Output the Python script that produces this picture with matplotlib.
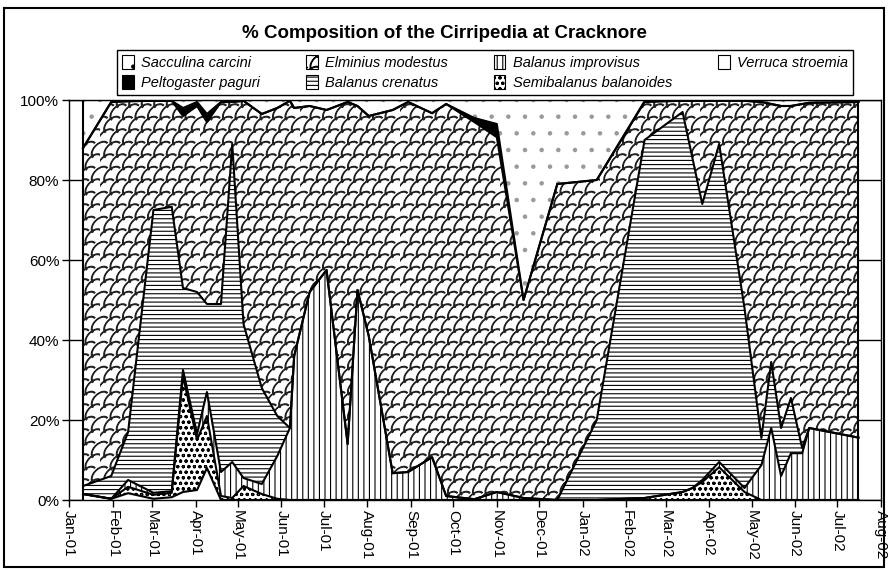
import numpy as np
import pandas as pd
import matplotlib
matplotlib.use('Agg')
import matplotlib.pyplot as plt
import matplotlib.dates as mdates
import matplotlib.hatch as mhatch
import matplotlib.patches as mpatches
from matplotlib.path import Path
from matplotlib.ticker import PercentFormatter

plt.rcParams['font.family'] = ['Liberation Sans', 'DejaVu Sans']
plt.rcParams['hatch.linewidth'] = 0.8

# sampling dates
dates = pd.to_datetime([
    '2001-01-11', '2001-01-31', '2001-02-12', '2001-03-02', '2001-03-15', '2001-03-23',
    '2001-04-02', '2001-04-09', '2001-04-19', '2001-04-27', '2001-05-05', '2001-05-18',
    '2001-05-29', '2001-06-07', '2001-06-10', '2001-06-21', '2001-07-03', '2001-07-18',
    '2001-07-25', '2001-08-02', '2001-08-19', '2001-08-30', '2001-09-16', '2001-09-26',
    '2001-10-16', '2001-11-01', '2001-11-20', '2001-12-14', '2002-01-11', '2002-02-14',
    '2002-03-13', '2002-03-20', '2002-03-27', '2002-04-08', '2002-04-26', '2002-05-08',
    '2002-05-15', '2002-05-22', '2002-05-29', '2002-06-06', '2002-06-11', '2002-07-16'])

# % composition of each species (bottom of the stack first)
verruca = [1.5, 0.3, 1.7, 0.3, 0.7, 2.0, 2.5, 8.0, 0, 0, 0, 0,
           0, 0, 0, 0, 0, 0, 0, 0, 0, 0, 0, 0,
           0, 0, 0, 0, 0, 0, 0, 0, 0, 0, 0, 0,
           0, 0, 0, 0, 0, 0]
semibalanus = [0, 0, 1.6, 1.0, 1.1, 29, 12.5, 13, 1, 0.5, 3.5, 1.5,
               0.3, 0, 0, 0, 0, 0, 0, 0, 0, 0, 0, 0,
               0, 0, 0, 0, 0, 0.5, 2, 3, 4.5, 8.2, 2, 0,
               0, 0, 0, 0, 0, 0]
improvisus = [0, 0, 1.7, 0.5, 0.4, 1.5, 1.5, 6, 6, 9, 2, 2.5,
              10.7, 18, 36, 52, 57.5, 14, 52.5, 41, 6.7, 7, 10.7, 1,
              0.2, 2, 0.5, 0, 0, 0, 0, 0, 0.5, 1.3, 1, 8.7,
              18, 6, 11.7, 11.7, 18, 15.6]
crenatus = [2, 5.7, 12, 70.7, 71.1, 20.5, 35.5, 22, 42, 79.5, 38.5, 24,
            10, 0, 0, 0, 0, 0, 0, 0, 0, 0, 0, 0,
            0, 0, 0, 0, 20, 89.5, 95, 82.5, 69, 79.5, 45, 6.8,
            16.5, 12, 13.8, 1.3, 0, 0]
elminius = [84.5, 93.5, 82.7, 27.3, 26.5, 43, 46.5, 45.5, 50.5, 10.5, 55.8, 68.5,
            77, 81.8, 62, 46.5, 40, 85.5, 46, 55, 90.8, 92.5, 86, 98,
            94.3, 88.7, 49.5, 79, 60, 9.5, 2.8, 14.3, 25.8, 10.8, 51.8, 84,
            64.5, 80.5, 73, 86, 81.3, 83.9]
peltogaster = [0, 0, 0, 0, 0, 2, 1, 2, 0, 0, 0, 0,
               0, 0, 0, 0, 0, 0, 0, 0, 0, 0, 0, 0,
               1, 3.3, 0, 0, 0, 0.2, 0, 0, 0, 0, 0, 0,
               0, 0, 0, 0, 0, 0]
sacculina = [12, 0.5, 0.3, 0.2, 0.2, 2, 0.5, 3.5, 0.5, 0.5, 0.2, 3.5,
             2, 0.2, 2, 1.5, 2.5, 0.5, 1.5, 4, 2.5, 0.5, 3.3, 1,
             4.5, 6, 50, 21, 20, 0.3, 0.2, 0.2, 0.2, 0.2, 0.2, 0.5,
             1, 1.5, 1.5, 1, 0.7, 0.5]

names = ['Verruca stroemia', 'Semibalanus balanoides', 'Balanus improvisus',
         'Balanus crenatus', 'Elminius modestus', 'Peltogaster paguri', 'Sacculina carcini']


# diagonal "shingle" pattern for Elminius (takes the place of the 'O' hatch)
class ShingleHatch(mhatch.Shapes):
    filled = False
    size = 0.85

    def __init__(self, hatch, density):
        self.num_rows = hatch.count('O') * 8
        t = np.linspace(0, np.pi, 15)
        u, v = np.cos(t), 0.6 * np.sin(t)
        c = np.sqrt(0.5)
        self.shape_vertices = np.column_stack([c * (u - v), c * (u + v)])
        self.shape_codes = np.full(len(t), Path.LINETO, dtype=Path.code_type)
        self.shape_codes[0] = Path.MOVETO
        super().__init__(hatch, density)


mhatch._hatch_types = [ShingleHatch if h is mhatch.LargeCircles else h
                       for h in mhatch._hatch_types]

# face colour, hatch colour, hatch
styles = [('white', 'black', None),
          ('white', 'black', 'ooo'),
          ('white', 'black', '|||'),
          ('white', 'black', '----'),
          ('white', '#222222', 'O'),
          ('black', 'black', None),
          ('white', '#999999', '.')]

fig = plt.figure(figsize=(8.89, 5.70), dpi=100)
ax = fig.add_axes([69 / 889, 70 / 570, 812 / 889, 400 / 570])

data = np.vstack([verruca, semibalanus, improvisus, crenatus, elminius, peltogaster, sacculina])
tops = np.cumsum(data, axis=0)
bottoms = np.vstack([np.zeros(len(dates)), tops[:-1]])

for i in range(len(names)):
    fc, hc, h = styles[i]
    ax.fill_between(dates, bottoms[i], tops[i], facecolor=fc, edgecolor=hc,
                    hatch=h, linewidth=0, zorder=2)
    ax.plot(dates, tops[i], color='black', linewidth=1.5, zorder=3)
ax.vlines([dates[0], dates[-1]], 0, 100, color='black', linewidth=1.5, zorder=3)

ax.set_xlim(pd.Timestamp('2001-01-01'), pd.Timestamp('2002-08-01'))
ax.set_ylim(0, 100)
ax.xaxis.set_major_locator(mdates.MonthLocator())
ax.xaxis.set_major_formatter(mdates.DateFormatter('%b-%y'))
ax.yaxis.set_major_locator(plt.MultipleLocator(20))
ax.yaxis.set_major_formatter(PercentFormatter(decimals=0))
ax.tick_params(axis='both', direction='out', length=5, width=1, labelsize=11, pad=2)
plt.setp(ax.get_xticklabels(), rotation=270)
ax.grid(axis='y', color='black', linewidth=1, zorder=0)
ax.set_axisbelow(True)
for s in ax.spines.values():
    s.set_linewidth(1)

fig.text(0.5, 1 - 34 / 570, '% Composition of the Cirripedia at Cracknore',
         ha='center', va='center', fontsize=13.5, fontweight='bold')

# legend, listed like the original (column by column)
order = [6, 5, 4, 3, 2, 1, 0]
handles = []
for i in order:
    fc, hc, h = styles[i]
    handles.append(mpatches.Patch(facecolor=fc, edgecolor='black', hatch=h, linewidth=0.8))
leg = fig.legend(handles, [names[i] for i in order], ncol=4, mode='expand',
                 loc='lower left', bbox_to_anchor=(117 / 889, 1 - 95 / 570, 736 / 889, 45 / 570),
                 prop={'style': 'italic', 'size': 10.5}, handlelength=0.8, handleheight=1.1,
                 handletextpad=0.5, labelspacing=0.35, borderpad=0.35, borderaxespad=0,
                 fancybox=False, edgecolor='black', framealpha=1)
leg.get_frame().set_linewidth(1)

fig.add_artist(mpatches.Rectangle((4 / 889, 3 / 570), 880 / 889, 559 / 570, fill=False,
                                  edgecolor='black', linewidth=1.5, transform=fig.transFigure))

plt.savefig('out.png', dpi=100)
